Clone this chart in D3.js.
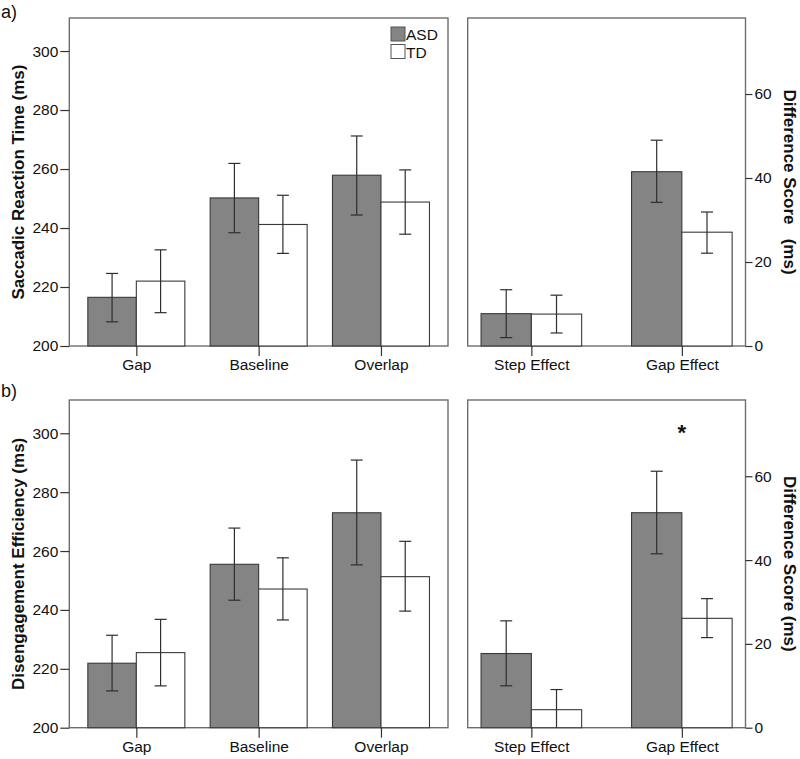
<!DOCTYPE html>
<html><head><meta charset="utf-8">
<script src="https://cdn.jsdelivr.net/npm/d3@7"></script>
<style>body{margin:0;background:#fff}svg{display:block;font-family:"Liberation Sans",Arial,sans-serif}</style>
</head><body><svg id="c" width="800" height="759"></svg>
<script>
// ---- data ----
const conditions = ["Gap", "Baseline", "Overlap"];
const effects = ["Step Effect", "Gap Effect"];
const groups = ["ASD", "TD"];
const rtTicks = [200, 220, 240, 260, 280, 300];
const diffTicks = [0, 20, 40, 60];

// a) Saccadic reaction time
const srtASD = [216.5, 250.2, 257.9];
const srtASDLo = [208.2, 238.4, 244.4];
const srtASDHi = [224.6, 261.9, 271.2];
const srtTD = [222.0, 241.2, 248.8];
const srtTDLo = [211.3, 231.4, 237.9];
const srtTDHi = [232.6, 251.1, 259.7];
const diffA_ASD = [7.7, 41.5];
const diffA_ASDLo = [2.0, 34.2];
const diffA_ASDHi = [13.4, 49.0];
const diffA_TD = [7.6, 27.1];
const diffA_TDLo = [3.1, 22.1];
const diffA_TDHi = [12.1, 31.9];

// b) Disengagement efficiency
const deASD = [221.9, 255.5, 273.0];
const deASDLo = [212.5, 243.3, 255.3];
const deASDHi = [231.4, 267.8, 290.9];
const deTD = [225.5, 247.1, 251.3];
const deTDLo = [214.2, 236.6, 239.6];
const deTDHi = [236.8, 257.7, 263.3];
const diffB_ASD = [17.7, 51.3];
const diffB_ASDLo = [10.0, 41.5];
const diffB_ASDHi = [25.5, 61.2];
const diffB_TD = [4.3, 26.1];
const diffB_TDLo = [0.0, 21.5];
const diffB_TDHi = [9.1, 30.8];
const sigMarks = [{effect: "Gap Effect", label: "*"}];

// ---- drawing ----
const svg = d3.select("#c");
const fill = {ASD: "#848484", TD: "#ffffff"};
const frameColor = "#6e6e6e";
const FS = 15.5;

function panel(opt) {
  const g = svg.append("g");
  const x = d3.scalePoint().domain(opt.cats).range([opt.x0, opt.x1]).padding(opt.pad);
  const y = d3.scaleLinear().domain(opt.yDomain).range([opt.y1, opt.y0]);
  const bw = opt.barW;
  const rows = [];
  opt.cats.forEach((c, i) => {
    rows.push({c, grp: "ASD", v: opt.asd[i], lo: opt.asdLo[i], hi: opt.asdHi[i], off: -bw});
    rows.push({c, grp: "TD", v: opt.td[i], lo: opt.tdLo[i], hi: opt.tdHi[i], off: 0});
  });
  // frame
  g.append("rect").attr("x", opt.x0).attr("y", opt.y0).attr("width", opt.x1 - opt.x0).attr("height", opt.y1 - opt.y0)
    .attr("fill", "none").attr("stroke", frameColor).attr("stroke-width", 1.4);
  // bars
  g.selectAll("rect.bar").data(rows).join("rect").attr("class", "bar")
    .attr("x", d => x(d.c) + d.off).attr("width", bw)
    .attr("y", d => y(d.v)).attr("height", d => y(opt.yDomain[0]) - y(d.v))
    .attr("fill", d => fill[d.grp]).attr("stroke", "#3a3a3a").attr("stroke-width", 1.1);
  // error bars
  const eg = g.selectAll("g.err").data(rows).join("g").attr("class", "err")
    .attr("stroke", "#2e2e2e").attr("stroke-width", 1.2);
  const cx = d => x(d.c) + d.off + bw / 2;
  eg.append("line").attr("x1", cx).attr("x2", cx).attr("y1", d => y(d.lo)).attr("y2", d => y(d.hi));
  eg.append("line").attr("x1", d => cx(d) - 6).attr("x2", d => cx(d) + 6).attr("y1", d => y(d.hi)).attr("y2", d => y(d.hi));
  eg.filter(d => d.lo > opt.yDomain[0]).append("line").attr("x1", d => cx(d) - 6).attr("x2", d => cx(d) + 6)
    .attr("y1", d => y(d.lo)).attr("y2", d => y(d.lo));
  // x axis
  const xa = g.append("g").attr("transform", `translate(0,${opt.y1})`)
    .call(d3.axisBottom(x).tickSize(10).tickSizeOuter(0).tickPadding(3));
  xa.select(".domain").remove();
  xa.selectAll("line").attr("stroke", "#333").attr("stroke-width", 1.2);
  xa.selectAll("text").attr("font-size", FS).attr("fill", "#111").attr("font-family", "Liberation Sans, Arial, sans-serif");
  // y axis
  const ya = g.append("g").attr("transform", `translate(${opt.right ? opt.x1 : opt.x0},0)`)
    .call((opt.right ? d3.axisRight(y) : d3.axisLeft(y)).tickValues(opt.ticks).tickSize(opt.right ? 7 : 9).tickPadding(2).tickSizeOuter(0));
  ya.select(".domain").remove();
  ya.selectAll("line").attr("stroke", "#333").attr("stroke-width", 1.2);
  ya.selectAll("text").attr("font-size", FS).attr("fill", "#111").attr("font-family", "Liberation Sans, Arial, sans-serif");
  // title
  const cy = (opt.y0 + opt.y1) / 2;
  const tx = opt.right ? 789 : 18;
  g.append("text").attr("transform", `translate(${tx},${cy}) rotate(${opt.right ? 90 : -90})`)
    .attr("text-anchor", "middle").attr("dominant-baseline", "central")
    .attr("font-size", 17).attr("font-weight", "bold").attr("fill", "#111")
    .style("white-space", "pre").text(opt.title);
  return {g, x, y};
}

const LX0 = 69.3, LX1 = 448, RX0 = 467.7, RX1 = 745.5;

panel({cats: conditions, x0: LX0, x1: LX1, pad: 0.548, y0: 18, y1: 346, yDomain: [200, 311.2],
  asd: srtASD, asdLo: srtASDLo, asdHi: srtASDHi, td: srtTD, tdLo: srtTDLo, tdHi: srtTDHi,
  barW: 48.5, ticks: rtTicks, right: false, title: "Saccadic Reaction Time (ms)"});
panel({cats: effects, x0: RX0, x1: RX1, pad: 0.423, y0: 18, y1: 346, yDomain: [0, 78.1],
  asd: diffA_ASD, asdLo: diffA_ASDLo, asdHi: diffA_ASDHi, td: diffA_TD, tdLo: diffA_TDLo, tdHi: diffA_TDHi,
  barW: 50.3, ticks: diffTicks, right: true, title: "Difference Score\u00a0\u00a0 (ms)"});
panel({cats: conditions, x0: LX0, x1: LX1, pad: 0.548, y0: 400, y1: 727.7, yDomain: [200, 311.3],
  asd: deASD, asdLo: deASDLo, asdHi: deASDHi, td: deTD, tdLo: deTDLo, tdHi: deTDHi,
  barW: 48.5, ticks: rtTicks, right: false, title: "Disengagement Efficiency (ms)"});
const pB = panel({cats: effects, x0: RX0, x1: RX1, pad: 0.423, y0: 400, y1: 727.7, yDomain: [0, 78.2],
  asd: diffB_ASD, asdLo: diffB_ASDLo, asdHi: diffB_ASDHi, td: diffB_TD, tdLo: diffB_TDLo, tdHi: diffB_TDHi,
  barW: 50.3, ticks: diffTicks, right: true, title: "Difference Score (ms)"});

// significance mark
pB.g.selectAll("text.sig").data(sigMarks).join("text").attr("class", "sig")
  .attr("x", d => pB.x(d.effect)).attr("y", 440).attr("text-anchor", "middle")
  .attr("font-size", 22).attr("font-weight", "bold").attr("fill", "#111").text(d => d.label);

// panel letters
svg.append("text").attr("x", 1).attr("y", 18).attr("font-size", 18).attr("fill", "#111").text("a)");
svg.append("text").attr("x", 1).attr("y", 397).attr("font-size", 18).attr("fill", "#111").text("b)");

// legend
const lg = svg.append("g").attr("transform", "translate(391,27)");
groups.forEach((gname, i) => {
  lg.append("rect").attr("x", 0).attr("y", i * 17.5).attr("width", 14).attr("height", 14)
    .attr("fill", fill[gname]).attr("stroke", "#555").attr("stroke-width", 1);
  lg.append("text").attr("x", 15).attr("y", i * 17.5 + 13).attr("font-size", FS).attr("fill", "#111").text(gname);
});
</script></body></html>
